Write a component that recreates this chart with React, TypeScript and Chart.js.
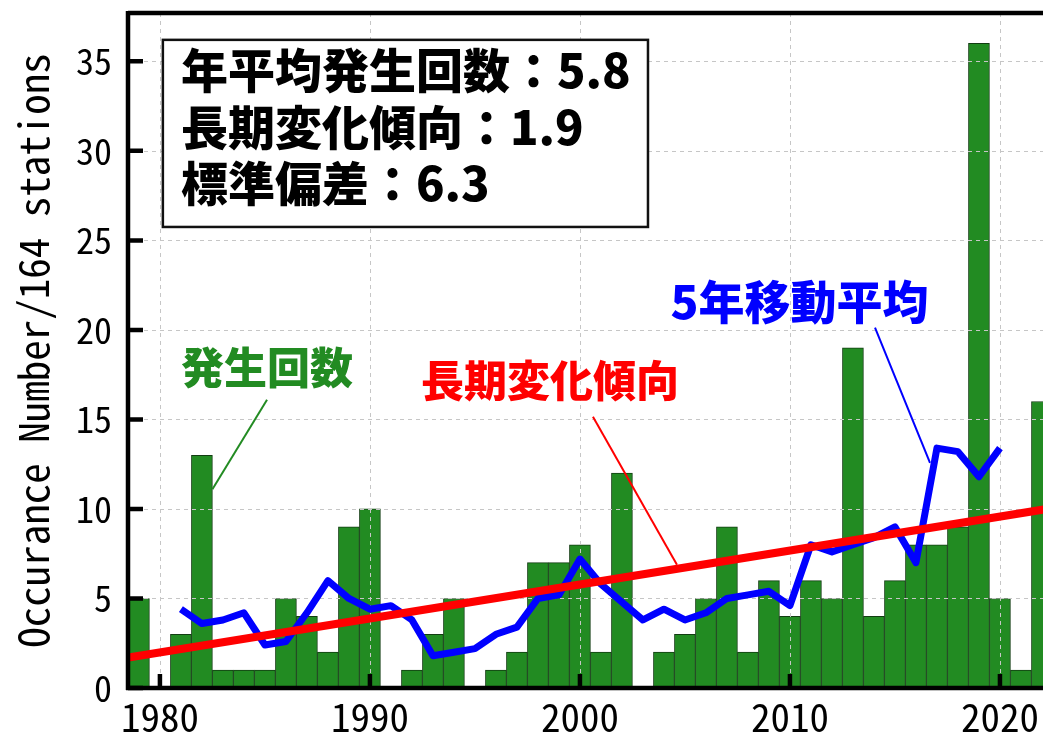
import React, { useEffect, useRef } from "react";
import { Chart, registerables } from "chart.js";

Chart.register(...registerables);

// ---- data ----
const YEARS = [
  1979, 1980, 1981, 1982, 1983, 1984, 1985, 1986, 1987, 1988, 1989, 1990,
  1991, 1992, 1993, 1994, 1995, 1996, 1997, 1998, 1999, 2000,
  2001, 2002, 2003, 2004, 2005, 2006, 2007, 2008, 2009, 2010,
  2011, 2012, 2013, 2014, 2015, 2016, 2017, 2018, 2019, 2020, 2021, 2022,
];
const COUNTS = [
  5, 0, 3, 13, 1, 1, 1, 5, 4, 2, 9, 10,
  0, 1, 3, 5, 0, 1, 2, 7, 7, 8,
  2, 12, 0, 2, 3, 5, 9, 2, 6, 4,
  6, 5, 19, 4, 6, 8, 8, 9, 36, 5, 1, 16,
];
const MA_YEARS = [
  1981, 1982, 1983, 1984, 1985, 1986, 1987, 1988, 1989, 1990,
  1991, 1992, 1993, 1994, 1995, 1996, 1997, 1998, 1999, 2000,
  2001, 2002, 2003, 2004, 2005, 2006, 2007, 2008, 2009, 2010,
  2011, 2012, 2013, 2014, 2015, 2016, 2017, 2018, 2019, 2020,
];
const MA_VALUES = [
  4.4, 3.6, 3.8, 4.2, 2.4, 2.6, 4.2, 6.0, 5.0, 4.4,
  4.6, 3.8, 1.8, 2.0, 2.2, 3.0, 3.4, 5.0, 5.2, 7.2,
  5.8, 4.8, 3.8, 4.4, 3.8, 4.2, 5.0, 5.2, 5.4, 4.6,
  8.0, 7.6, 8.0, 8.4, 9.0, 7.0, 13.4, 13.2, 11.8, 13.4,
];
const TREND_YEARS = [1978.5, 2022.5];
const TREND_VALUES = [1.7, 10.05];

const Y_TITLE = "Occurance Number/164 stations";
const STAT_LINES = ["年平均発生回数：5.8", "長期変化傾向：1.9", "標準偏差：6.3"];
const LABEL_BARS = "発生回数";
const LABEL_TREND = "長期変化傾向";
const LABEL_MA = "5年移動平均";

// ---- layout / style (data coordinates for annotations) ----
const X_MIN = 1978.48;
const X_MAX = 2022.05;
const Y_MAX = 37.7;
const MONO = '"Noto Sans Mono CJK JP", "DejaVu Sans Mono", monospace';
const JP = '"Noto Sans CJK JP", "Noto Sans", sans-serif';
const GRID_COLOR = "#c6c6c6";

const BOX = { x0: 1980.14, x1: 2003.24, y0: 36.2, y1: 25.75, textX: 1981.0 };
const BOX_LINE_Y = [34.5, 31.3, 28.2];
const CALLOUTS = [
  { text: LABEL_BARS, color: "#228b22", x: 1985.1, y: 17.9, size: 43, from: [1985.1, 16.1], to: [1982.5, 11.1] },
  { text: LABEL_TREND, color: "#ff0000", x: 1998.57, y: 17.16, size: 43, from: [2000.62, 15.15], to: [2004.62, 6.88] },
  { text: LABEL_MA, color: "#0000ff", x: 2010.45, y: 21.58, size: 46, from: [2014.05, 20.13], to: [2016.67, 12.58] },
];

const decorPlugin = {
  id: "decor",
  afterDatasetDraw(chart: any, args: any) {
    // dashed grid drawn over the bars, under the lines
    if (args.meta.type !== "bar") return;
    const { ctx, chartArea, scales } = chart;
    const xs = scales.x;
    const ys = scales.y;
    ctx.save();
    ctx.strokeStyle = GRID_COLOR;
    ctx.lineWidth = 1;
    ctx.setLineDash([4, 4]);
    ctx.beginPath();
    for (const t of xs.ticks) {
      const x = Math.round(xs.getPixelForValue(t.value)) + 0.5;
      ctx.moveTo(x, chartArea.top);
      ctx.lineTo(x, chartArea.bottom);
    }
    for (const t of ys.ticks) {
      const y = Math.round(ys.getPixelForValue(t.value)) + 0.5;
      ctx.moveTo(chartArea.left, y);
      ctx.lineTo(chartArea.right, y);
    }
    ctx.stroke();
    ctx.restore();
  },
  afterDatasetsDraw(chart: any) {
    const { ctx, chartArea, scales } = chart;
    const xs = scales.x;
    const ys = scales.y;
    const px = (v: number) => xs.getPixelForValue(v);
    const py = (v: number) => ys.getPixelForValue(v);
    ctx.save();

    // frame
    ctx.strokeStyle = "#000";
    ctx.lineWidth = 4.5;
    ctx.lineCap = "butt";
    ctx.beginPath();
    ctx.moveTo(chartArea.left, chartArea.top);
    ctx.lineTo(chartArea.right + 5, chartArea.top);
    ctx.moveTo(chartArea.left, chartArea.top - 2);
    ctx.lineTo(chartArea.left, chartArea.bottom + 2);
    ctx.moveTo(chartArea.left - 2, chartArea.bottom);
    ctx.lineTo(chartArea.right + 5, chartArea.bottom);
    ctx.stroke();

    // inward ticks
    ctx.lineWidth = 4.5;
    ctx.beginPath();
    for (const t of ys.ticks) {
      const y = py(t.value);
      ctx.moveTo(chartArea.left, y);
      ctx.lineTo(chartArea.left + 15, y);
    }
    for (const t of xs.ticks) {
      const x = px(t.value);
      ctx.moveTo(x, chartArea.bottom);
      ctx.lineTo(x, chartArea.bottom - 14);
    }
    ctx.stroke();

    // stats box
    const bx0 = px(BOX.x0), bx1 = px(BOX.x1), by0 = py(BOX.y0), by1 = py(BOX.y1);
    ctx.fillStyle = "#fff";
    ctx.fillRect(bx0, by0, bx1 - bx0, by1 - by0);
    ctx.strokeStyle = "#111";
    ctx.lineWidth = 2.5;
    ctx.strokeRect(bx0, by0, bx1 - bx0, by1 - by0);
    ctx.fillStyle = "#000";
    ctx.font = `900 47px ${JP}`;
    ctx.textAlign = "left";
    ctx.textBaseline = "middle";
    STAT_LINES.forEach((s, i) => ctx.fillText(s, px(BOX.textX), py(BOX_LINE_Y[i])));

    // callouts
    for (const c of CALLOUTS) {
      ctx.strokeStyle = c.color;
      ctx.lineWidth = 2;
      ctx.beginPath();
      ctx.moveTo(px(c.from[0]), py(c.from[1]));
      ctx.lineTo(px(c.to[0]), py(c.to[1]));
      ctx.stroke();
      ctx.fillStyle = c.color;
      ctx.font = `900 ${c.size}px ${JP}`;
      ctx.textAlign = "center";
      ctx.textBaseline = "middle";
      ctx.fillText(c.text, px(c.x), py(c.y));
    }
    ctx.restore();
  },
};

export default function App() {
  const ref = useRef<HTMLCanvasElement>(null);

  useEffect(() => {
    if (!ref.current) return;
    const chart = new Chart(ref.current, {
      type: "bar",
      data: {
        datasets: [
          {
            type: "line",
            label: "trend",
            data: TREND_YEARS.map((yr, i) => ({ x: yr, y: TREND_VALUES[i] })),
            borderColor: "#ff0000",
            borderWidth: 8,
            pointRadius: 0,
            tension: 0,
            clip: 0,
            order: 1,
          } as any,
          {
            type: "line",
            label: "ma",
            data: MA_YEARS.map((yr, i) => ({ x: yr, y: MA_VALUES[i] })),
            borderColor: "#0000ff",
            borderWidth: 7,
            borderJoinStyle: "round",
            borderCapStyle: "butt",
            pointRadius: 0,
            tension: 0,
            order: 2,
          } as any,
          {
            type: "bar",
            label: "count",
            data: YEARS.map((yr, i) => ({ x: yr, y: COUNTS[i] })),
            backgroundColor: "#228b22",
            borderColor: "#123d12",
            borderWidth: 1,
            barPercentage: 1,
            categoryPercentage: 1,
            order: 3,
          } as any,
        ],
      },
      options: {
        responsive: false,
        animation: false,
        layout: { padding: { top: 13, left: 0, right: 0, bottom: 0 } },
        plugins: { legend: { display: false }, tooltip: { enabled: false } },
        scales: {
          x: {
            type: "linear",
            offset: false,
            min: X_MIN,
            max: X_MAX,
            ticks: {
              stepSize: 10,
              includeBounds: false,
              color: "#000",
              padding: 6,
              font: { family: MONO, size: 39 },
              callback: (v: any) => String(v),
              maxRotation: 0,
            },
            grid: { display: false, drawTicks: false, offset: false },
            border: { display: false },
            afterFit: (s: any) => {
              s.height = 46;
              s.paddingLeft = 0;
              s.paddingRight = 0;
            },
          },
          y: {
            min: 0,
            max: Y_MAX,
            ticks: {
              stepSize: 5,
              includeBounds: false,
              color: "#000",
              padding: 16,
              font: { family: MONO, size: 36 },
            },
            grid: { display: false, drawTicks: false },
            border: { display: false },
            title: {
              display: true,
              text: Y_TITLE,
              color: "#000",
              font: { family: MONO, size: 41 },
              padding: { top: 9, bottom: 0 },
            },
            afterFit: (s: any) => {
              s.width = 128;
              s.paddingTop = 0;
              s.paddingBottom = 0;
            },
          },
        },
      } as any,
      plugins: [decorPlugin],
    });
    return () => chart.destroy();
  }, []);

  return (
    <div style={{ position: "fixed", left: 0, top: 0, width: 1043, height: 734, background: "#fff", overflow: "hidden" }}>
      <canvas ref={ref} width={1043} height={734} style={{ display: "block" }} />
    </div>
  );
}
